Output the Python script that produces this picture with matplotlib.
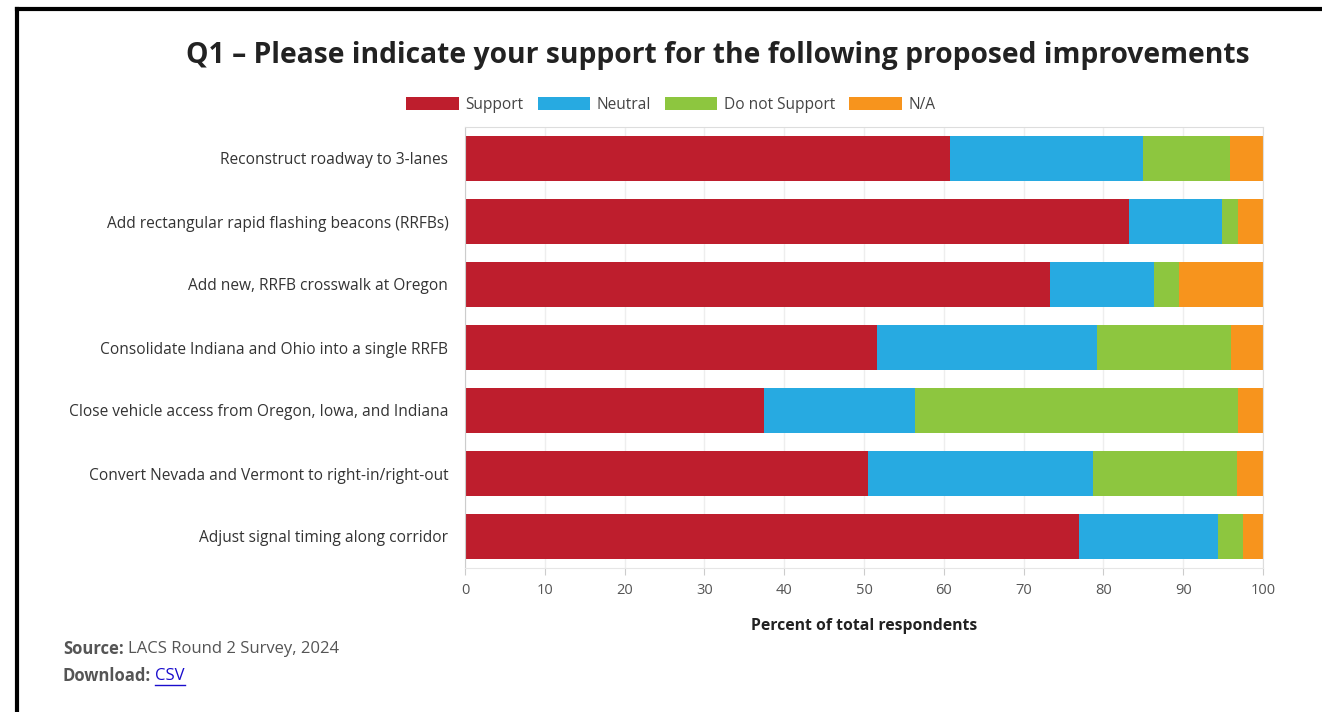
import matplotlib
matplotlib.use("Agg")
import matplotlib.pyplot as plt
from matplotlib.patches import Patch
import numpy as np

plt.rcParams['font.family'] = ['Open Sans', 'DejaVu Sans']

categories = [
    "Reconstruct roadway to 3-lanes",
    "Add rectangular rapid flashing beacons (RRFBs)",
    "Add new, RRFB crosswalk at Oregon",
    "Consolidate Indiana and Ohio into a single RRFB",
    "Close vehicle access from Oregon, Iowa, and Indiana",
    "Convert Nevada and Vermont to right-in/right-out",
    "Adjust signal timing along corridor",
]
support = [60.8, 83.2, 73.3, 51.6, 37.5, 50.5, 76.9]
neutral = [24.2, 11.7, 13.0, 27.6, 18.9, 28.2, 17.4]
do_not_support = [10.9, 2.0, 3.2, 16.8, 40.5, 18.1, 3.2]
na = [4.1, 3.1, 10.5, 4.0, 3.1, 3.2, 2.5]
series_names = ["Support", "Neutral", "Do not Support", "N/A"]
colors = ["#BE1E2D", "#27AAE1", "#8DC63F", "#F7941D"]
xticks = [0, 10, 20, 30, 40, 50, 60, 70, 80, 90, 100]

W, H = 1322, 712
fig = plt.figure(figsize=(W/100, H/100), dpi=100)
ax = fig.add_axes([465/W, 1-568/H, (1263-465)/W, (568-127)/H])

y = np.arange(len(categories))
left = np.zeros(len(categories))
for vals, name, c in zip([support, neutral, do_not_support, na], series_names, colors):
    ax.barh(y, vals, left=left, height=0.72, color=c, label=name, zorder=2)
    left += np.array(vals)

ax.set_ylim(len(categories) - 0.5, -0.5)
ax.set_xlim(0, 100)
ax.set_xticks(xticks)
ax.set_xticklabels([str(t) for t in xticks], fontsize=10.5, color="#555555")
ax.set_yticks(y)
ax.set_yticklabels(categories, fontsize=11.2, color="#333333")
ax.tick_params(axis='y', length=0, pad=12)
ax.tick_params(axis='x', length=5, color="#cccccc", pad=6)
ax.grid(axis='x', color="#eeeeee", linewidth=1, zorder=0)
for s in ['top', 'right']:
    ax.spines[s].set_color("#dddddd")
ax.spines['left'].set_color("#cccccc")
ax.spines['bottom'].set_color("#e6e6e6")
ax.set_xlabel("Percent of total respondents", fontsize=11.3, fontweight='bold',
              color="#222222", labelpad=14)

handles = [Patch(facecolor=c, label=n) for n, c in zip(series_names, colors)]
fig.legend(handles=handles, loc='center', bbox_to_anchor=(671/W, 1-105/H),
           ncol=4, frameon=False, fontsize=11.2, handlelength=3.35, handleheight=0.9,
           handletextpad=0.45, columnspacing=0.9, labelcolor="#444444")

fig.text(718/W, 1-56/H, "Q1 – Please indicate your support for the following proposed improvements",
         ha='center', va='center', fontsize=20.3, fontweight='bold', color="#222222")

renderer = fig.canvas.get_renderer()
t1 = fig.text(63/W, 1-649/H, "Source:", fontsize=12, fontweight='bold', color="#555555",
              ha='left', va='center')
x1 = t1.get_window_extent(renderer).x1
fig.text((x1 + 4)/W, 1-649/H, "LACS Round 2 Survey, 2024", fontsize=12, color="#555555",
         ha='left', va='center')
t2 = fig.text(63/W, 1-676/H, "Download:", fontsize=12, fontweight='bold', color="#555555",
              ha='left', va='center')
x2 = t2.get_window_extent(renderer).x1
t3 = fig.text((x2 + 4)/W, 1-676/H, "CSV", fontsize=12, color="#1a0dcc", ha='left', va='center')
bb = t3.get_window_extent(renderer)
fig.add_artist(plt.Line2D([bb.x0/W, bb.x1/W], [1-685/H, 1-685/H], color="#1a0dcc", lw=1))

# page frame lines
fig.add_artist(plt.Line2D([17/W, 1.0], [1-9/H, 1-9/H], color="black", lw=3))
fig.add_artist(plt.Line2D([17/W, 17/W], [0, 1-9/H], color="black", lw=3))

fig.savefig("out.png", dpi=100)
